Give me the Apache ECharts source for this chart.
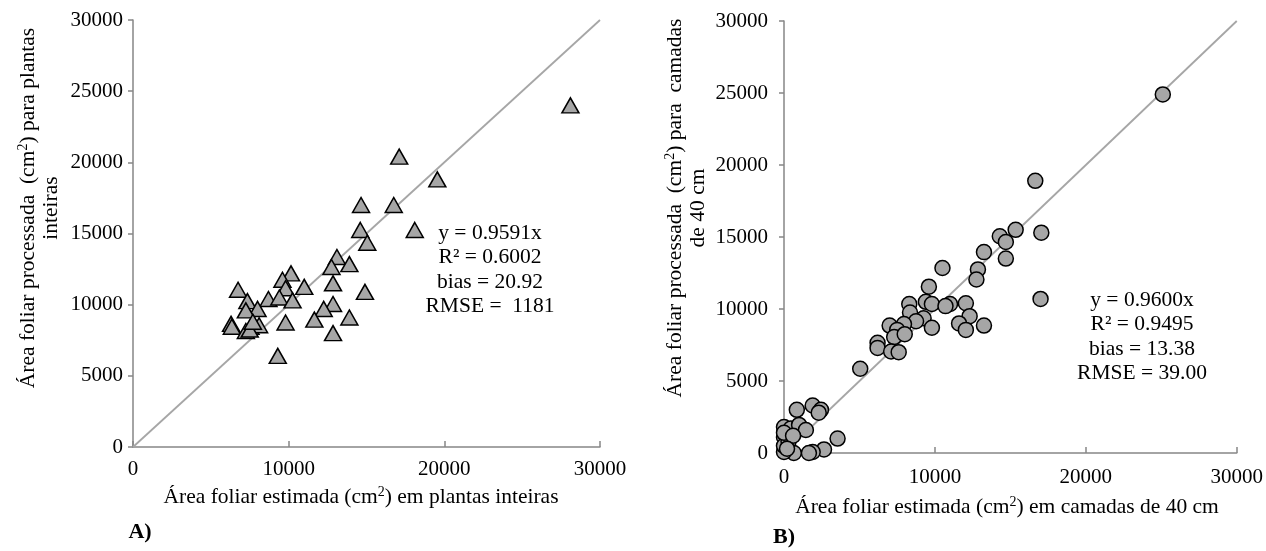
<!DOCTYPE html>
<html><head><meta charset="utf-8">
<script src="https://cdn.jsdelivr.net/npm/echarts@6/dist/echarts.min.js"></script>
<style>html,body{margin:0;padding:0;background:#fff}#c{width:1266px;height:551px}</style>
</head><body><div id="c"></div>
<script>
const axisMin = 0, axisMax = 30000;
const xTickStep = 10000, yTickStep = 5000;

// A) plantas inteiras
const plantEst  = [28100,17100,19550,14650,16750,18100,14600,15050,13100,13900,12750,12850,10150,9600,11000,9800,14900,6750,8700,9400,10250,7350,12850,12250,8000,7250,13900,11650,9800,6300,6350,7750,7550,8100,7250,12850,9300,7500,7700];
const plantProc = [24000,20400,18800,17000,17000,15250,15250,14350,13350,12850,12650,11500,12200,11750,11250,11150,10900,11050,10400,10500,10300,10250,10050,9700,9700,9600,9100,8950,8750,8650,8450,8650,8450,8550,8150,8000,6400,8250,8800];

// B) camadas de 40 cm
const layerEst  = [25100,16650,17050,15350,14300,14700,13250,14700,12850,10500,12750,9600,17000,8300,9400,9800,11000,10700,12050,8350,9250,12300,8750,7950,7000,9800,11600,13250,12050,7500,7300,8000,6200,6200,7100,7600,5050,850,1900,2450,2300,0,450,1000,1450,3550,0,2650,1900,1650,650,0,0,300,0,600,200];
const layerProc = [24900,18900,15300,15500,15050,14650,13950,13500,12750,12850,12050,11550,10700,10350,10500,10350,10350,10200,10400,9750,9350,9500,9150,8950,8850,8700,9000,8850,8550,8550,8050,8250,7650,7300,7050,7000,5850,3000,3300,3000,2800,1800,1700,1950,1600,1000,1100,250,70,0,0,70,500,800,1400,1200,300];

const refLine = [0, 30000];
const statsA = ['y = 0.9591x', 'R² = 0.6002', 'bias = 20.92', 'RMSE =  1181'];
const statsB = ['y = 0.9600x', 'R² = 0.9495', 'bias = 13.38', 'RMSE = 39.00'];

const FONT = 'Liberation Serif';
const pairs = (xs, ys) => xs.map((x, i) => [x, ys[i]]);
const axisColor = '#868686';

function xAx(gi, m) {
  return {
    gridIndex: gi, type: 'value', min: axisMin, max: axisMax, interval: xTickStep,
    axisLine: {show: true, onZero: false, lineStyle: {color: axisColor, width: 1.5}},
    axisTick: {show: true, inside: true, length: 6, lineStyle: {color: axisColor, width: 1.5}},
    splitLine: {show: false},
    axisLabel: {color: '#000', fontFamily: FONT, fontSize: 21, margin: m, formatter: v => String(v)}
  };
}
function yAx(gi, m) {
  return {
    gridIndex: gi, type: 'value', min: axisMin, max: axisMax, interval: yTickStep,
    axisLine: {show: true, onZero: false, lineStyle: {color: axisColor, width: 1.5}},
    axisTick: {show: true, inside: false, length: 5, lineStyle: {color: axisColor, width: 1.5}},
    splitLine: {show: false},
    axisLabel: {color: '#000', fontFamily: FONT, fontSize: 21, margin: m, formatter: v => String(v)}
  };
}
const TS = 21.5;
const richSup = {
  n: {fontFamily: FONT, fontSize: TS, fill: '#000', lineHeight: 23, verticalAlign: 'bottom'},
  s: {fontFamily: FONT, fontSize: 14, fill: '#000', lineHeight: 23, verticalAlign: 'top'}
};
function txt(x, y, text, opts) {
  return {
    type: 'text', x: x, y: y,
    style: Object.assign({text: text, fontFamily: FONT, fontSize: 21.5, fill: '#000', textAlign: 'center', textVerticalAlign: 'middle', lineHeight: 24.5}, opts || {})
  };
}
function richTxt(x, y, text, rot) {
  return {
    type: 'text', x: x, y: y, rotation: rot || 0,
    style: {text: text, rich: richSup, textAlign: 'center', textVerticalAlign: 'middle', lineHeight: 23, fontFamily: FONT, fontSize: TS, fill: '#000'}
  };
}

const chart = echarts.init(document.getElementById('c'), null, {renderer: 'canvas'});
chart.setOption({
  animation: false,
  backgroundColor: '#fff',
  grid: [
    {left: 133, top: 20, width: 467, height: 427},
    {left: 784, top: 21, width: 453, height: 432}
  ],
  xAxis: [xAx(0, 12), xAx(1, 14)],
  yAxis: [yAx(0, 10), yAx(1, 16)],
  series: [
    {type: 'line', xAxisIndex: 0, yAxisIndex: 0, data: pairs(refLine, refLine), symbol: 'none', lineStyle: {color: '#a6a6a6', width: 1.8}, z: 1},
    {type: 'scatter', xAxisIndex: 0, yAxisIndex: 0, data: pairs(plantEst, plantProc), symbol: 'triangle', symbolSize: [17, 15],
      itemStyle: {color: '#a6a6a6', borderColor: '#000', borderWidth: 1.5, opacity: 1}, z: 3},
    {type: 'line', xAxisIndex: 1, yAxisIndex: 1, data: pairs(refLine, refLine), symbol: 'none', lineStyle: {color: '#a6a6a6', width: 1.8}, z: 1},
    {type: 'scatter', xAxisIndex: 1, yAxisIndex: 1, data: pairs(layerEst, layerProc), symbol: 'circle', symbolSize: 15,
      itemStyle: {color: '#a6a6a6', borderColor: '#000', borderWidth: 1.5, opacity: 1}, z: 3}
  ],
  graphic: [
    txt(490, 270, statsA.join('\n')),
    txt(1142, 337, statsB.join('\n')),
    richTxt(361, 497, '{n|Área foliar estimada (cm}{s|2}{n|) em plantas inteiras}'),
    richTxt(1007, 507, '{n|Área foliar estimada (cm}{s|2}{n|) em camadas de 40 cm}'),
    richTxt(39, 208, '{n|Área foliar processada  (cm}{s|2}{n|) para plantas}\n{n|inteiras}', Math.PI / 2),
    richTxt(686, 208, '{n|Área foliar processada  (cm}{s|2}{n|) para  camadas}\n{n|de 40 cm}', Math.PI / 2),
    txt(140, 532, 'A)', {fontWeight: 'bold', fontSize: 22}),
    txt(784, 537, 'B)', {fontWeight: 'bold', fontSize: 22})
  ]
});
</script></body></html>
